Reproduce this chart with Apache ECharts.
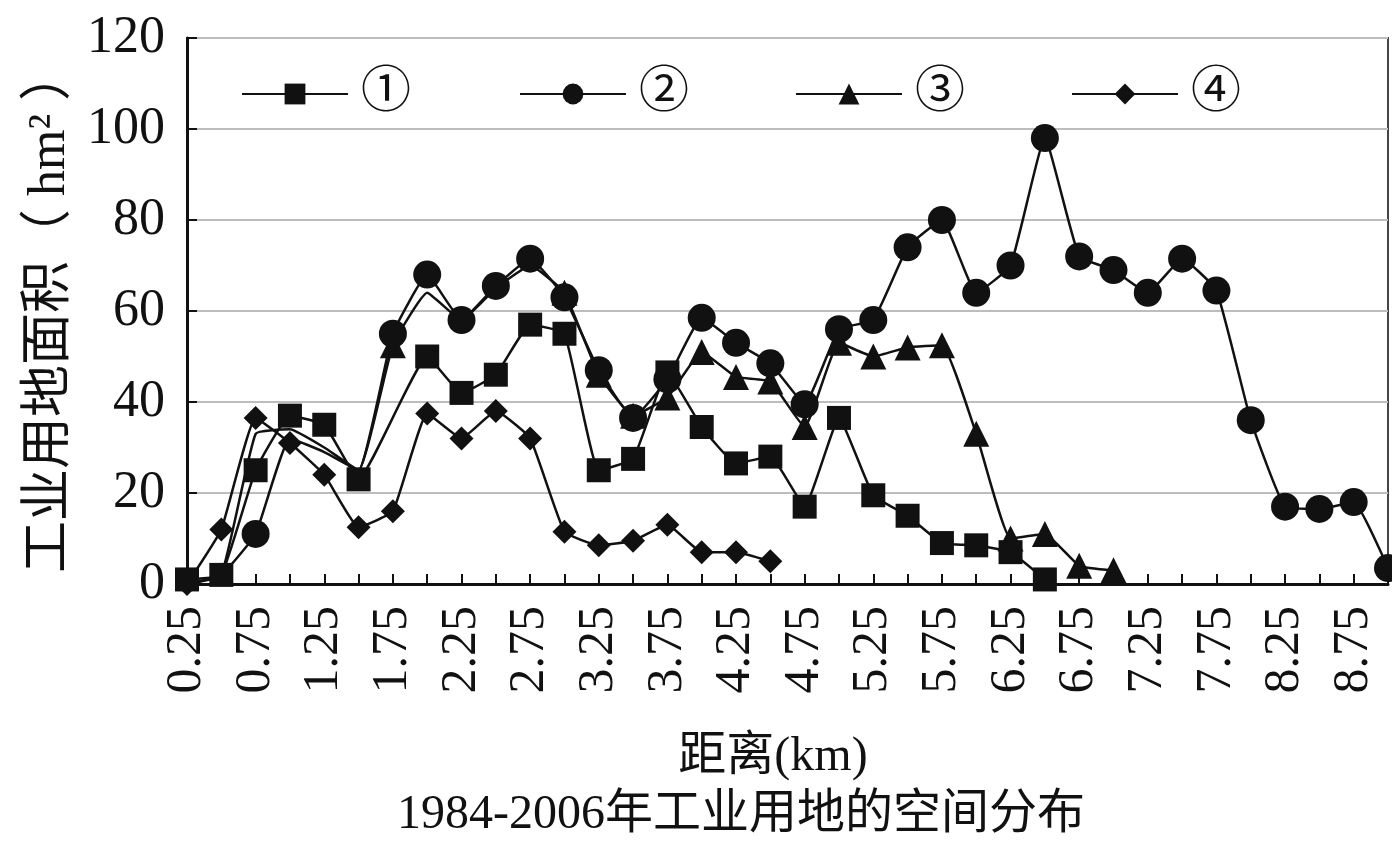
<!DOCTYPE html>
<html><head><meta charset="utf-8">
<script src="https://cdn.jsdelivr.net/npm/echarts@6/dist/echarts.min.js"></script>
<style>html,body{margin:0;padding:0;background:#fff}#c{width:1392px;height:846px}</style>
</head><body><div id="c"></div>
<script>
const categories = ['0.25','0.5','0.75','1.0','1.25','1.5','1.75','2.0','2.25','2.5','2.75','3.0','3.25','3.5','3.75','4.0','4.25','4.5','4.75','5.0','5.25','5.5','5.75','6.0','6.25','6.5','6.75','7.0','7.25','7.5','7.75','8.0','8.25','8.5','8.75','9.0'];
const series1 = [1,2,25,37,35,23,null,50,42,46,57,55,25,27.5,46.5,34.5,26.5,28,17,36.5,19.5,15,9,8.5,7,1];
const series2 = [0,2,11,32,29,25,55,68,58,65.5,71.5,63,47,36.5,45,58.5,53,48.5,39.5,56,58,74,80,64,70,98,72,69,64,71.5,64.5,36,17,16.5,18,3.5];
const series3 = [0,2,33,34,30,25,52.5,64,58,65,70,64,46,37,41,51,45.5,44.5,34.5,53,50,52,52.5,33,10,11,4,3];
const series4 = [0,12,36.5,31,24,12.5,16,37.5,32,38,32,11.5,8.5,9.5,13,7,7,5];
const seriesNames = ['①','②','③','④'];
const yTicks = [0,20,40,60,80,100,120];
// points whose markers are not drawn in the original figure
const noMarker2 = [0,1,3,4,5];
const noMarker3 = [0,1,2,3,4,5,7,8,9,10];

const FONT = "'Liberation Serif','Noto Sans CJK SC',serif";
const BLACK = '#111';
const chart = echarts.init(document.getElementById('c'));
function mk(name, data, symbol, size, z, hidden){
  hidden = hidden || [];
  return {name, type:'line', data, symbol, showAllSymbol:true, smooth:0.12, connectNulls:true, z,
    symbolSize:(v,p)=> hidden.indexOf(p.dataIndex) >= 0 ? 0 : size,
    lineStyle:{color:BLACK,width:2.5}, itemStyle:{color:BLACK,borderColor:BLACK,borderWidth:0}};
}
const legendPos = [236, 514, 790, 1066];
chart.setOption({
  animation:false,
  backgroundColor:'#fff',
  title:[
    {text:'距离(km)', left:768, top:728, textAlign:'center', textStyle:{fontFamily:FONT,fontSize:48,fontWeight:'normal',color:BLACK}},
    {text:'1984-2006年工业用地的空间分布', left:736, top:786, textAlign:'center', textStyle:{fontFamily:FONT,fontSize:48,fontWeight:'normal',color:BLACK}}
  ],
  legend: seriesNames.map((n,i)=>({data:[{name:n, itemStyle:{}}], left:legendPos[i], top:64, itemWidth:106, itemHeight:26, itemGap:0,
    textStyle:{fontFamily:FONT,fontSize:50,color:BLACK, padding:[0,0,0,8]}})),
  grid:{left:187, right:4, top:38, bottom:262, show:true, borderColor:'#444', borderWidth:2},
  xAxis:{type:'category', data:categories, boundaryGap:false,
    axisLine:{lineStyle:{color:BLACK,width:3}},
    axisTick:{show:true, inside:true, length:10, interval:0, lineStyle:{color:BLACK,width:2}},
    axisLabel:{rotate:90, interval:1, margin:22, fontFamily:FONT, fontSize:50, color:BLACK},
    splitLine:{show:false}},
  yAxis:{type:'value', min:yTicks[0], max:yTicks[yTicks.length-1], interval:20,
    name:'工业用地面积（ hm² ）', nameLocation:'middle', nameRotate:90, nameGap:108,
    nameTextStyle:{fontFamily:FONT,fontSize:52,color:BLACK},
    axisLine:{show:true,lineStyle:{color:BLACK,width:3}},
    axisTick:{show:true, inside:true, length:10, lineStyle:{color:BLACK,width:2}},
    axisLabel:{margin:22, fontFamily:FONT, fontSize:52, color:BLACK},
    splitLine:{lineStyle:{color:'#bdbdbd',width:2}}},
  series:[
    mk(seriesNames[0], series1, 'rect', 24, 5),
    mk(seriesNames[1], series2, 'circle', 28, 4, noMarker2),
    mk(seriesNames[2], series3, 'triangle', 26, 3, noMarker3),
    mk(seriesNames[3], series4, 'diamond', 24, 2)
  ]
});
</script></body></html>
